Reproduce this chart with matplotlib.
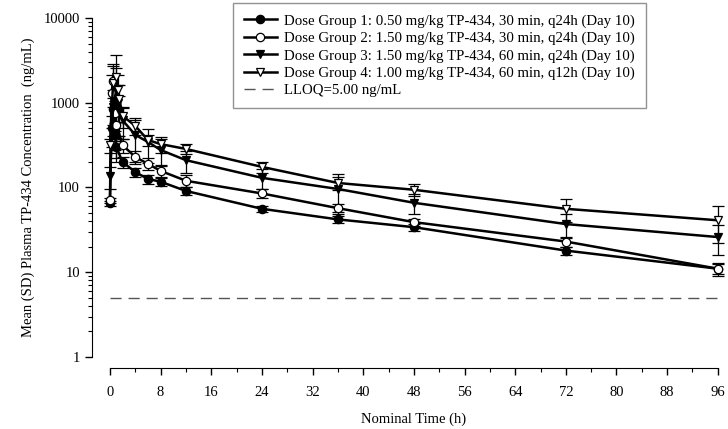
import numpy as np
import matplotlib.pyplot as plt
from matplotlib.ticker import FixedLocator, NullFormatter, LogLocator

plt.rcParams['font.family'] = ['Liberation Serif', 'DejaVu Serif']

# Nominal sampling times (h)
t_30min = [0, 0.25, 0.5, 0.75, 1, 2, 4, 6, 8, 12, 24, 36, 48, 72, 96]
t_60min = [0, 0.5, 1, 1.25, 1.5, 2, 4, 6, 8, 12, 24, 36, 48, 72, 96]

# Mean concentrations (ng/mL)
g1_mean = [65, 500, 850, 430, 300, 200, 152, 126, 117, 91, 56, 42, 34, 18, 11]
g2_mean = [71, 1300, 1800, 760, 550, 316, 229, 190, 157, 120, 85, 57, 39, 23, 11]
g3_mean = [135, 900, 1400, 1000, 800, 620, 417, 345, 277, 210, 130, 96, 66, 37, 26]
g4_mean = [316, 1700, 2000, 1400, 1100, 700, 533, 363, 325, 285, 175, 113, 94, 56, 41]

# SD
g1_sd = [5, 200, 300, 150, 80, 30, 20, 15, 12, 10, 5, 4, 3, 2, 1.5]
g2_sd = [5, 800, 900, 300, 200, 60, 40, 30, 25, 20, 10, 6, 4, 3, 2]
g3_sd = [40, 500, 1200, 600, 400, 250, 217, 150, 100, 60, 35, 48, 18, 12, 10]
g4_sd = [60, 1200, 1650, 700, 500, 200, 120, 55, 70, 40, 25, 20, 15, 17, 19]

labels = [
    "Dose Group 1: 0.50 mg/kg TP-434, 30 min, q24h (Day 10)",
    "Dose Group 2: 1.50 mg/kg TP-434, 30 min, q24h (Day 10)",
    "Dose Group 3: 1.50 mg/kg TP-434, 60 min, q24h (Day 10)",
    "Dose Group 4: 1.00 mg/kg TP-434, 60 min, q12h (Day 10)",
]
lloq = 5.0

fig = plt.figure(figsize=(7.28, 4.29), dpi=100)
ax = fig.add_axes([0.151, 0.168, 0.835, 0.790])

series = [
    (t_30min, g1_mean, g1_sd, 'o', 'black'),
    (t_30min, g2_mean, g2_sd, 'o', 'white'),
    (t_60min, g3_mean, g3_sd, 'v', 'black'),
    (t_60min, g4_mean, g4_sd, 'v', 'white'),
]

handles = []
for (t, m, sd, mk, fc), lab in zip(series, labels):
    ax.errorbar(t, m, yerr=sd, fmt='none', ecolor='black', elinewidth=0.9,
                capsize=4, capthick=0.9, clip_on=False, zorder=2)
    h, = ax.plot(t, m, '-', color='black', lw=1.8, marker=mk, ms=6,
                 mfc=fc, mec='black', mew=0.9, clip_on=False, zorder=3, label=lab)
    handles.append(h)

ll, = ax.plot([0, 96], [lloq, lloq], color='#555555', lw=1.0,
              dashes=(8, 5), label="LLOQ=5.00 ng/mL")
handles.append(ll)

ax.set_yscale('log')
ax.set_ylim(1, 10000)
ax.set_xlim(0, 96)

ax.set_xticks(np.arange(0, 97, 8))
ax.xaxis.set_minor_locator(FixedLocator(np.arange(4, 96, 8)))
ax.yaxis.set_major_locator(LogLocator(base=10, numticks=10))
ax.yaxis.set_minor_locator(LogLocator(base=10, subs=np.arange(2, 10), numticks=10))
ax.yaxis.set_minor_formatter(NullFormatter())
ax.set_yticks([1, 10, 100, 1000, 10000])
ax.set_yticklabels(['1', '10', '100', '1000', '10000'])

for s in ['top', 'right']:
    ax.spines[s].set_visible(False)
ax.spines['left'].set_position(('outward', 13))
ax.spines['bottom'].set_position(('outward', 8))
ax.tick_params(axis='both', which='major', direction='out', length=5, width=1, labelsize=10.5)
ax.tick_params(axis='both', which='minor', direction='out', length=3, width=0.8)
ax.tick_params(axis='x', pad=8)

ax.set_xlabel("Nominal Time (h)", fontsize=10.5, labelpad=10)
ax.set_ylabel("Mean (SD) Plasma TP-434 Concentration  (ng/mL)", fontsize=10.5, labelpad=6)

leg = fig.legend(handles=handles, loc='upper left', bbox_to_anchor=(233 / 728, 1 - 3 / 429),
                 borderaxespad=0, fontsize=10.7, frameon=True, fancybox=False,
                 handlelength=2.2, borderpad=0.75, labelspacing=0.26, handletextpad=0.5)
leg.get_frame().set_edgecolor('#777777')
leg.get_frame().set_linewidth(1.0)

fig.savefig('out.png', dpi=100)
